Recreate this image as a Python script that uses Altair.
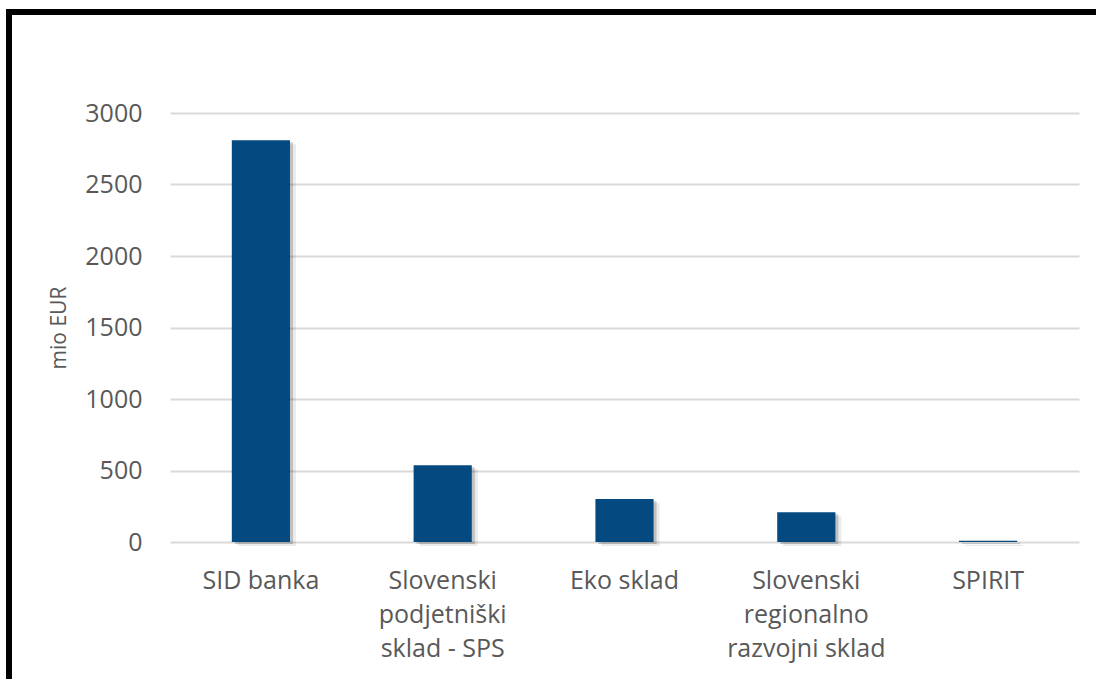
import altair as alt
import pandas as pd

categories = ["SID banka", "Slovenski|podjetniški|sklad - SPS", "Eko sklad",
              "Slovenski|regionalno|razvojni sklad", "SPIRIT"]
values = [2810, 537, 300, 208, 8]
y_ticks = [0, 500, 1000, 1500, 2000, 2500, 3000]

df = pd.DataFrame({"cat": categories, "val": values})

FONT = "Open Sans"
TXT = "#595959"

x_enc = alt.X("cat:N", sort=categories, title=None,
              scale=alt.Scale(paddingInner=0.68, paddingOuter=0.34),
              axis=alt.Axis(labelExpr="split(datum.label, '|')", labelAngle=0,
                            labelFont=FONT, labelFontSize=25, labelColor=TXT,
                            labelLineHeight=34, labelPadding=26, labelBaseline="top",
                            ticks=False, domain=False, grid=False))
y_enc = alt.Y("val:Q", title="mio EUR",
              scale=alt.Scale(domain=[0, 3000], nice=False),
              axis=alt.Axis(values=y_ticks, format="d", labelFont=FONT, labelFontSize=25,
                            labelColor=TXT, labelPadding=28, ticks=False, domain=False,
                            gridColor="#D9D9D9", gridWidth=2,
                            titleFont=FONT, titleFontSize=21, titleColor=TXT,
                            titleFontWeight="normal", titlePadding=15))

base = alt.Chart(df)
shadow2 = base.mark_bar(color="#000000", opacity=0.08, xOffset=6, yOffset=4).encode(x=x_enc, y=y_enc)
shadow1 = base.mark_bar(color="#000000", opacity=0.18, xOffset=3, yOffset=2).encode(x=x_enc, y=y_enc)
bars = base.mark_bar(color="#044A80").encode(x=x_enc, y=y_enc)

border = alt.Chart(pd.DataFrame({"a": [0]})).mark_rect(
    fill=None, stroke="black", strokeWidth=6
).encode(x=alt.value(-161), x2=alt.value(940), y=alt.value(-101), y2=alt.value(580))

chart = alt.layer(shadow2, shadow1, bars, border).properties(
    width=909, height=429,
    padding={"left": 170, "top": 113, "right": 17, "bottom": 137},
    autosize=alt.AutoSizeParams(type="none"),
    background="white",
).configure_view(stroke=None)

chart.save("out.html", embed_options={"renderer": "svg", "actions": False})
